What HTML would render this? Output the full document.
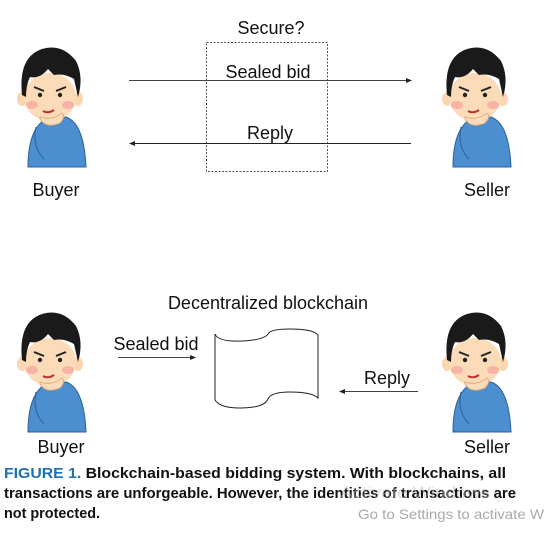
<!DOCTYPE html>
<html><head><meta charset="utf-8"><style>
html,body{margin:0;padding:0;background:#fff;}
svg{display:block;}
text{font-family:"Liberation Sans",sans-serif;}
</style></head><body>
<svg width="544" height="536" viewBox="0 0 544 536" xmlns="http://www.w3.org/2000/svg">
<defs>
<g id="p">
  <!-- body -->
  <path d="M10 120 Q10 78 32 70 L48 70 Q66 76 68 120 Z" fill="#4b8fd1" stroke="#2d5f99" stroke-width="1"/>
  <!-- ears -->
  <ellipse cx="4" cy="52" rx="5" ry="7" fill="#fbd6b1"/>
  <ellipse cx="60" cy="52" rx="5" ry="7" fill="#fbd6b1"/>
  <!-- face -->
  <ellipse cx="32" cy="50" rx="26" ry="24" fill="#fcdcb8"/>
  <!-- hair -->
  <path d="M4 48 Q0 10 24 2 Q44 -4 58 14 Q66 30 60 50 L56 32 Q46 26 36 28 L30 22 Q22 32 12 30 Q8 38 8 50 Z" fill="#1a1a1a"/>
  <!-- cheeks -->
  <ellipse cx="14" cy="58" rx="6" ry="4" fill="#f7b3a6"/>
  <ellipse cx="50" cy="58" rx="6" ry="4" fill="#f7b3a6"/>
  <!-- eyes -->
  <path d="M16 40 L26 44 M38 44 L48 40" stroke="#222" stroke-width="2"/>
  <circle cx="22" cy="48" r="2.2" fill="#222"/><circle cx="42" cy="48" r="2.2" fill="#222"/>
  <path d="M25 64 Q30 67 36 63" stroke="#c03030" stroke-width="2" fill="none"/>
  <!-- hand -->
  <path d="M22 72 Q28 82 42 76 Q48 70 44 66 Q34 74 22 70 Z" fill="#fcdcb8" stroke="#d9a27a" stroke-width="0.8"/>
  <path d="M18 80 Q14 100 26 112" stroke="#2d5f99" stroke-width="1" fill="none"/>
</g>
<marker id="a" markerWidth="6" markerHeight="6" refX="5" refY="3" orient="auto"><path d="M0 0.5 L6 3 L0 5.5Z" fill="#222"/></marker>
</defs>

<use href="#p" x="18" y="47"/>
<use href="#p" x="443" y="47"/>
<use href="#p" x="18" y="312"/>
<use href="#p" x="443" y="312"/>

<g font-size="18" fill="#111" text-anchor="middle">
<text x="56" y="196">Buyer</text>
<text x="487" y="196">Seller</text>
<text x="61" y="453">Buyer</text>
<text x="487" y="453">Seller</text>
<text x="271" y="34">Secure?</text>
<text x="268" y="78">Sealed bid</text>
<text x="270" y="139">Reply</text>
<text x="268" y="309">Decentralized blockchain</text>
<text x="156" y="350">Sealed bid</text>
<text x="387" y="384">Reply</text>
</g>

<rect x="206.5" y="42.5" width="121" height="129" fill="none" stroke="#555" stroke-dasharray="2,1.5"/>
<line x1="129" y1="80.5" x2="411" y2="80.5" stroke="#444" marker-end="url(#a)"/>
<line x1="411" y1="143.5" x2="130" y2="143.5" stroke="#222" marker-end="url(#a)"/>
<line x1="118" y1="357.5" x2="195" y2="357.5" stroke="#444" marker-end="url(#a)"/>
<line x1="418" y1="391.5" x2="340" y2="391.5" stroke="#444" marker-end="url(#a)"/>

<path d="M215 334 Q218 342 242 341 Q264 340 268 334 Q270 329 290 329 Q313 329 318 335 L318 398 Q312 392 290 392 Q271 392 268 399 Q264 408 240 408 Q220 408 215 400 Z" fill="#fff" stroke="#222" stroke-width="1"/>

<g font-size="15" font-weight="bold" fill="#111">
<text x="4" y="478" textLength="502" lengthAdjust="spacingAndGlyphs"><tspan fill="#1e6fb0">FIGURE 1.</tspan>  Blockchain-based bidding system. With blockchains, all</text>
<text x="4" y="498" textLength="512" lengthAdjust="spacingAndGlyphs">transactions are unforgeable. However, the identities of transactions are</text>
<text x="4" y="518" textLength="96" lengthAdjust="spacingAndGlyphs">not protected.</text>
</g>
<text x="340" y="498" font-size="17" fill="#bbb" opacity="0.5" textLength="150" lengthAdjust="spacingAndGlyphs">Activate Windows</text>
<text x="358" y="519" font-size="14" fill="#aaa" textLength="186" lengthAdjust="spacingAndGlyphs">Go to Settings to activate W</text>
</svg>
</body></html>
